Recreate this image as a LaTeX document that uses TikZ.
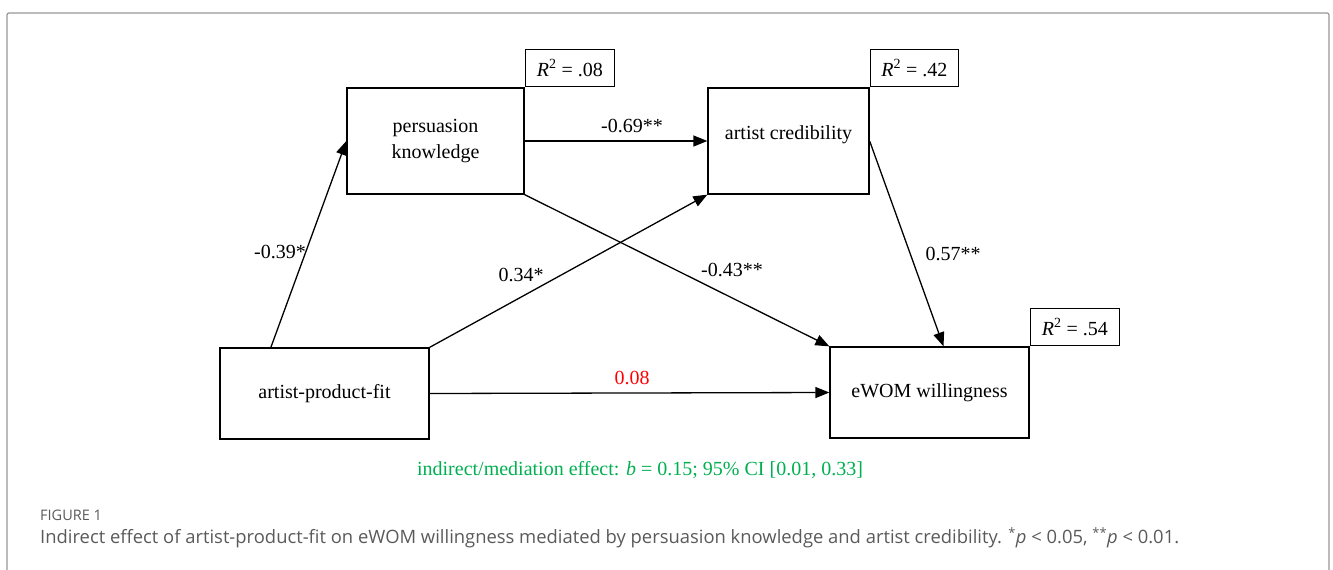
\documentclass[tikz,border=0pt]{standalone}
\usepackage{fontspec}
\setmainfont{Liberation Serif}
\newfontfamily\capfont{Open Sans}
\usetikzlibrary{arrows.meta,calc,positioning}

\definecolor{effgreen}{RGB}{0,176,80}
\definecolor{effred}{RGB}{255,0,0}
\definecolor{capgray}{RGB}{90,90,90}
\definecolor{framegray}{RGB}{150,150,150}

\tikzset{
    varbox/.style={draw, line width=1.3pt, inner sep=0pt, align=center,
        font=\fontsize{20}{26}\selectfont},
    rsqbox/.style={draw, line width=1.3pt, minimum width=89pt, minimum height=37pt,
        inner sep=0pt, font=\fontsize{20}{24}\selectfont},
    path/.style={line width=1.3pt, -{Triangle[length=14pt,width=11pt]}},
    coef/.style={font=\fontsize{20}{24}\selectfont, inner sep=1pt},
}
\newcommand{\rsq}[1]{\textit{R}\textsuperscript{2} = #1}

\begin{document}
\begin{tikzpicture}[x=1pt,y=-1pt]
    \useasboundingbox (0,0) rectangle (1333,570);
    % frame of the figure
    \draw[framegray, line width=1.2pt, rounded corners=2pt]
        (7,590) -- (7,13) -- (1329,13) -- (1329,590);

    % variables
    \node[varbox, minimum width=177pt, minimum height=106pt] (pk) at (435.5,141) {persuasion\\knowledge};
    \node[varbox, minimum width=161pt, minimum height=106pt, text depth=16pt] (ac) at (788.5,141) {artist credibility};
    \node[varbox, minimum width=209pt, minimum height=91pt] (apf) at (324.5,393.5) {artist-product-fit};
    \node[varbox, minimum width=199pt, minimum height=91pt] (ewom) at (929.5,392.5) {eWOM willingness};

    % explained variance
    \node[rsqbox, anchor=south west] (r2pk) at (pk.north east) {\rsq{.08}};
    \node[rsqbox, anchor=south west, minimum width=88pt] (r2ac) at (ac.north east) {\rsq{.42}};
    \node[rsqbox, anchor=south west] (r2ewom) at (ewom.north east) {\rsq{.54}};

    % paths
    \draw[path] ($(apf.north west)!0.245!(apf.north east)$) -- (pk.west);
    \draw[path] (apf.north east) -- (ac.south west);
    \draw[path] (pk.east) -- (ac.west);
    \draw[path] (pk.south east) -- (ewom.north west);
    \draw[path] (ac.east) -- ($(ewom.north west)!0.57!(ewom.north east)$);
    \draw[path] (apf.east) -- (ewom.west);

    % coefficients
    \node[coef] (c1) at (280,252) {-0.39*};
    \node[coef] (c2) at (521,275) {0.34*};
    \node[coef] (c3) at (632,126) {-0.69**};
    \node[coef] (c4) at (732,270) {-0.43**};
    \node[coef] (c5) at (953,254) {0.57**};
    \node[coef, text=effred] (c6) at (632,378) {0.08};
    \node[coef, text=effgreen] (ind) at (640,470)
        {indirect/mediation effect: \textit{b} = 0.15; 95\% CI [0.01, 0.33]};

    % caption
    \node[anchor=west, inner sep=0pt, text=capgray, font=\capfont\fontsize{14.5}{17}\selectfont]
        (fig) at (40,515) {FIGURE 1};
    \node[anchor=west, inner sep=0pt, text=capgray, font=\capfont\fontsize{18.4}{22}\selectfont]
        (cap) at (40,538) {Indirect effect of artist-product-fit on eWOM willingness mediated by persuasion knowledge and artist credibility. \textsuperscript{*}\textit{p} < 0.05, \textsuperscript{**}\textit{p} < 0.01.};
\end{tikzpicture}
\end{document}
